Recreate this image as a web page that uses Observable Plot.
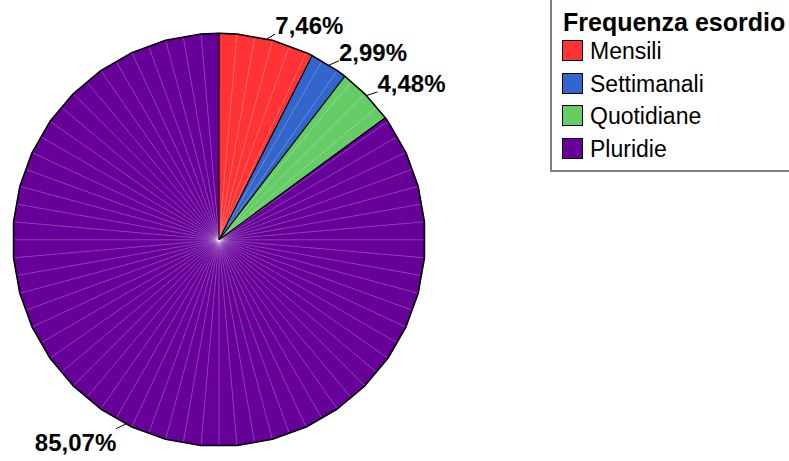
<!DOCTYPE html>
<html>
<head>
<meta charset="utf-8">
<script src="https://cdn.jsdelivr.net/npm/d3@7"></script>
<script src="https://cdn.jsdelivr.net/npm/@observablehq/plot@0.6"></script>
<style>
  html, body { margin: 0; padding: 0; background: #fff; overflow: hidden; }
  #chart { position: relative; width: 789px; height: 461px; overflow: hidden; font-family: "Liberation Sans", Arial, sans-serif; }
  #chart svg { position: absolute; left: 0; top: 0; }
  .lg { position: absolute; line-height: 1; white-space: nowrap; color: #000; }
</style>
</head>
<body>
<div id="chart"></div>
<script>
// Onset frequency shares (%), clockwise from 12 o'clock
const categories = ["Mensili", "Settimanali", "Quotidiane", "Pluridie"];
const shares = [7.46, 2.99, 4.48, 85.07];
const shareLabels = ["7,46%", "2,99%", "4,48%", "85,07%"];
const legendTitle = "Frequenza esordio";

const palette = ["#ff3333", "#3366cc", "#66cc66", "#660099"];

const deg = Math.PI / 180;
const arcs = d3.pie().sort(null).value(d => d).startAngle(0).endAngle(2 * Math.PI)(shares);

// the disc is drawn as a faceted polygon: vertices every 10°, offset by 5°
const vertexAngles = d3.range(5, 360, 10).map(a => a * deg);
const pt = (a, r = 1) => ({x: r * Math.sin(a), y: r * Math.cos(a)});

const sliceRows = [];
arcs.forEach((s, i) => {
  const angles = [s.startAngle, ...vertexAngles.filter(a => a > s.startAngle && a < s.endAngle), s.endAngle];
  sliceRows.push({...pt(0, 0), cat: categories[i]});
  angles.forEach(a => sliceRows.push({...pt(a), cat: categories[i]}));
});

const outlineAngles = Array.from(new Set([...vertexAngles, ...arcs.map(s => s.startAngle)])).sort((a, b) => a - b);
const outline = outlineAngles.map(a => pt(a));

// faint radial seams every 5°, ending on the polygon edge
const seams = d3.range(0, 360, 5).map(a => {
  const ang = a * deg;
  const facetMid = (10 * Math.floor((a - 5) / 10) + 10) * deg;
  const r = Math.cos(5 * deg) / Math.cos(ang - facetMid);
  return {...pt(ang, Math.min(1, r) * 0.995), x0: 0, y0: 0};
});

const borders = arcs.map(s => ({...pt(s.startAngle), x0: 0, y0: 0}));

// value labels with short leader lines
const labels = arcs.map((s, i) => {
  const m = (s.startAngle + s.endAngle) / 2;
  const side = Math.sin(m) >= 0 ? 1 : -1;
  const e = pt(m);
  const o = pt(m, 1.025);
  return {x0: e.x, y0: e.y, x: o.x + side * 0.035, y: o.y, side, text: shareLabels[i]};
});

const font = "Liberation Sans, Arial, sans-serif";

const plot = Plot.plot({
  width: 789,
  height: 461,
  margin: 0,
  x: {domain: [-1, 1], range: [12.3, 424.7], axis: null},
  y: {domain: [-1, 1], range: [445.8, 32.8], axis: null},
  color: {domain: categories, range: palette},
  style: {fontFamily: font, background: "transparent"},
  marks: [
    Plot.line(sliceRows, {x: "x", y: "y", z: "cat", fill: "cat", stroke: "cat", strokeWidth: 0.5, curve: "linear-closed"}),
    Plot.link(seams, {x1: "x0", y1: "y0", x2: "x", y2: "y", stroke: "white", strokeOpacity: 0.32, strokeWidth: 0.8}),
    Plot.link(borders, {x1: "x0", y1: "y0", x2: "x", y2: "y", stroke: "black", strokeWidth: 1.2}),
    Plot.line(outline, {x: "x", y: "y", stroke: "black", strokeWidth: 1.6, curve: "linear-closed"}),
    Plot.link(labels, {x1: "x0", y1: "y0", x2: "x", y2: "y", stroke: "black", strokeWidth: 1}),
    Plot.text(labels.filter(d => d.side > 0), {x: "x", y: "y", text: "text", textAnchor: "start", lineAnchor: "bottom", fontSize: 24, fontWeight: "bold", fill: "black"}),
    Plot.text(labels.filter(d => d.side < 0), {x: "x", y: "y", text: "text", textAnchor: "end", lineAnchor: "top", dy: 5, fontSize: 24, fontWeight: "bold", fill: "black"})
  ]
});

const chart = document.getElementById("chart");
chart.appendChild(plot);

// legend box on the right
const box = document.createElement("div");
Object.assign(box.style, {
  position: "absolute", left: "550px", top: "-10px", width: "260px", height: "182px",
  boxSizing: "border-box", border: "2px solid #808080", background: "#fff"
});
chart.appendChild(box);

function place(text, left, baseline, size, weight) {
  const el = document.createElement("div");
  el.className = "lg";
  el.textContent = text;
  el.style.left = left + "px";
  el.style.top = (baseline - 0.8465 * size) + "px";
  el.style.fontSize = size + "px";
  el.style.fontWeight = weight;
  chart.appendChild(el);
}
place(legendTitle, 563, 31, 25, "bold");
categories.forEach((c, i) => {
  const base = 59.3 + 32.7 * i;
  const sw = document.createElement("div");
  Object.assign(sw.style, {
    position: "absolute", left: "562px", top: (base - 19.3) + "px", width: "21px", height: "21px",
    boxSizing: "border-box", border: "1.5px solid #000", background: palette[i]
  });
  chart.appendChild(sw);
  place(c, 590, base, 23, "normal");
});
</script>
</body>
</html>
